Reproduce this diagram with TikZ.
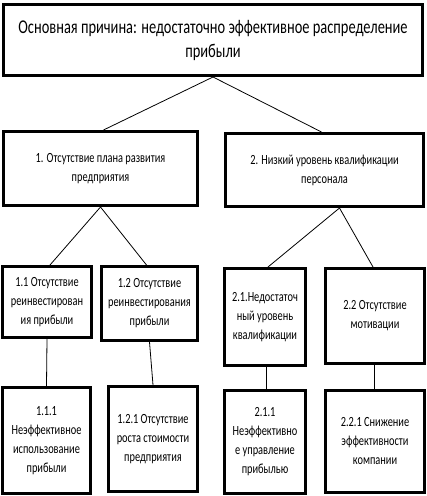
\documentclass[tikz,border=0pt]{standalone}
\usepackage{fontspec}
\setmainfont{Carlito}[FakeStretch=0.74]
\begin{document}
\begin{tikzpicture}[x=1pt,y=-1pt,
  box/.style={draw=black,line width=3pt,align=center,inner sep=0pt,font=\fontsize{14}{19}\selectfont},
  link/.style={draw=black,line width=0.8pt}]
\useasboundingbox (0,0) rectangle (427,496);
\node[box,minimum width=419,minimum height=71,font=\fontsize{19.5}{24}\selectfont] (top) at (213,40) {Основная причина: недостаточно эффективное\ распределение\\прибыли};
\node[box,minimum width=194,minimum height=74] (b1) at (100.5,168.5) {1. Отсутствие плана развития\\предприятия};
\node[box,minimum width=198,minimum height=73] (b2) at (324.5,170) {2. Низкий уровень квалификации\\персонала};
\node[box,minimum width=89,minimum height=71] (b11) at (47,302) {1.1 Отсутствие\\реинвестирован\\ия прибыли};
\node[box,minimum width=96,minimum height=74] (b12) at (149.5,303.5) {1.2 Отсутствие\\реинвестирования\\прибыли};
\node[box,minimum width=81,minimum height=97] (b21) at (265,317) {2.1.Недостаточ\\ный уровень\\квалификации};
\node[box,minimum width=99,minimum height=95] (b22) at (375,316) {2.2 Отсутствие\\мотивации};
\node[box,minimum width=88,minimum height=106] (b111) at (46.5,440.5) {1.1.1\\Неэффективное\\использование\\прибыли};
\node[box,minimum width=89,minimum height=105] (b121) at (153,439) {1.2.1 Отсутствие\\роста стоимости\\предприятия};
\node[box,minimum width=81,minimum height=103] (b211) at (265,442) {2.1.1\\Неэффективно\\е управление\\прибылью};
\node[box,minimum width=99,minimum height=102] (b221) at (375,441.5) {2.2.1 Снижение\\эффективности\\компании};
\coordinate (b2s) at ([xshift=15pt]b2.south);
\draw[link] (top.south) -- ([xshift=3pt]b1.north);
\draw[link] (top.south) -- ([xshift=-3pt]b2.north);
\draw[link] (b1.south) -- ([xshift=3pt]b11.north);
\draw[link] (b1.south) -- ([xshift=-3pt]b12.north);
\draw[link] (b2s) -- ([xshift=3pt]b21.north);
\draw[link] (b2s) -- ([xshift=-2pt]b22.north);
\draw[link] (b11.south) -- (b111.north);
\draw[link] (b12.south) -- (b121.north);
\draw[link] ([xshift=1pt]b21.south) -- ([xshift=1pt]b211.north);
\draw[link] ([xshift=-1pt]b22.south) -- ([xshift=-1pt]b221.north);
\end{tikzpicture}
\end{document}
